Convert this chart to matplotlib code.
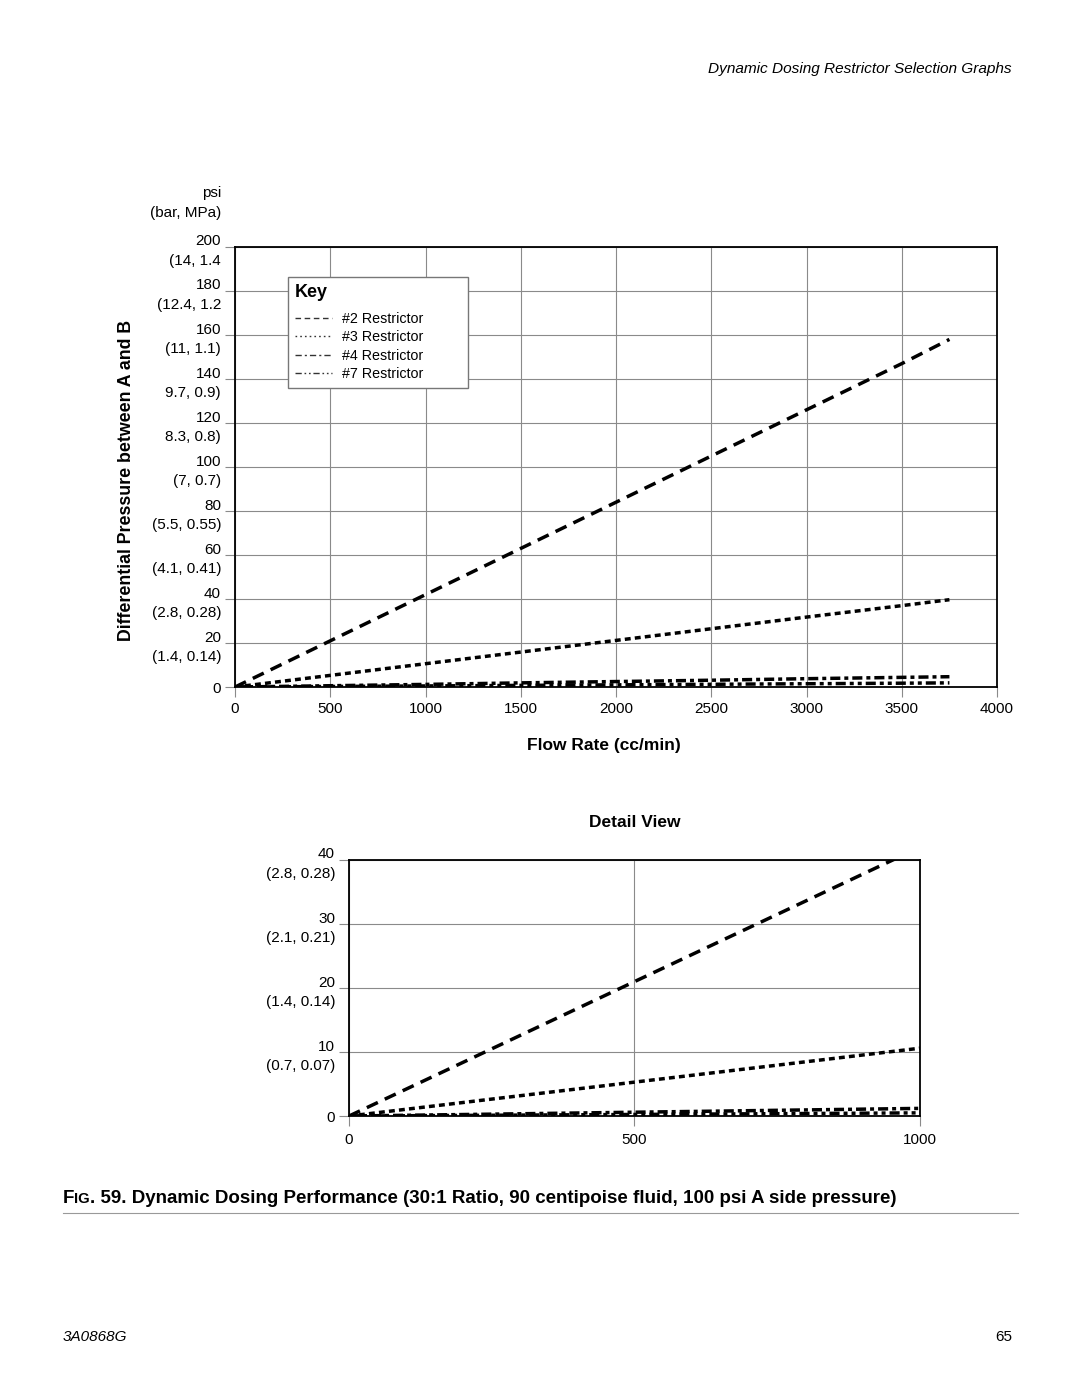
import matplotlib
matplotlib.use("Agg")
import matplotlib.pyplot as plt
from matplotlib.lines import Line2D

plt.rcParams['font.family'] = ['Liberation Sans', 'DejaVu Sans']

# data (flow in cc/min, pressure in psi)
flow = [0, 500, 1000, 1500, 2000, 2500, 3000, 3500, 3750]
r2 = [0, 21, 42, 63, 84, 105, 126, 147, 158]
r3 = [0, 5.3, 10.6, 15.9, 21.2, 26.5, 31.8, 37.0, 39.7]
r4 = [0, 0.6, 1.2, 1.9, 2.5, 3.1, 3.8, 4.4, 4.7]
r7 = [0, 0.25, 0.5, 0.75, 1.0, 1.25, 1.5, 1.75, 1.9]
labels = ["#2 Restrictor", "#3 Restrictor", "#4 Restrictor", "#7 Restrictor"]

main_yticks = [0, 20, 40, 60, 80, 100, 120, 140, 160, 180, 200]
main_ylabels = ["0", "20\n(1.4, 0.14)", "40\n(2.8, 0.28)", "60\n(4.1, 0.41)",
                "80\n(5.5, 0.55)", "100\n(7, 0.7)", "120\n8.3, 0.8)",
                "140\n9.7, 0.9)", "160\n(11, 1.1)", "180\n(12.4, 1.2",
                "200\n(14, 1.4"]
main_xticks = [0, 500, 1000, 1500, 2000, 2500, 3000, 3500, 4000]
det_yticks = [0, 10, 20, 30, 40]
det_ylabels = ["0", "10\n(0.7, 0.07)", "20\n(1.4, 0.14)", "30\n(2.1, 0.21)",
               "40\n(2.8, 0.28)"]
det_xticks = [0, 500, 1000]

series = [r2, r3, r4, r7]
dashes = [(3.5, 2.2), (1.7, 1.2), (2.9, 1.15, 1.15, 1.15),
          (2.9, 1.15, 1.15, 1.15, 1.15, 1.15)]
key_dashes = [(4, 2.6), (1.2, 2.2), (4.5, 2.2, 1.5, 2.2), (4.5, 2, 1.2, 2, 1.2, 2)]

fig = plt.figure(figsize=(10.8, 13.97), dpi=100)


def style_axes(ax):
    for sp in ax.spines.values():
        sp.set_linewidth(1.3)
        sp.set_color('black')
        sp.set_zorder(5)
    ax.grid(True, color='#8a8a8a', linewidth=0.8)
    ax.set_axisbelow(True)
    ax.tick_params(axis='both', length=7, width=0.8, color='#8a8a8a',
                   labelsize=11, pad=3)
    for t in ax.get_yticklabels():
        t.set_linespacing(1.5)


# main chart
ax = fig.add_axes([0.2176, 0.5082, 0.7056, 0.315])
for s, d, lab in zip(series, dashes, labels):
    ax.plot(flow, s, color='black', linewidth=2.5, dashes=d, label=lab,
            solid_capstyle='butt', dash_capstyle='butt')
ax.set_xlim(0, 4000)
ax.set_ylim(0, 200)
ax.set_xticks(main_xticks)
ax.set_yticks(main_yticks)
ax.set_yticklabels(main_ylabels)
style_axes(ax)
ax.tick_params(axis='x', pad=4)
ax.set_xlabel("Flow Rate (cc/min)", fontsize=12.5, fontweight='bold')
ax.xaxis.set_label_coords(0.484, -0.116)
ax.set_ylabel("Differential Pressure between A and B", fontsize=12.8,
              fontweight='bold')
ax.yaxis.set_label_coords(-0.131, 0.47)

handles = [Line2D([], [], color='#333333', linewidth=1, dashes=d) for d in key_dashes]
leg = ax.legend(handles, labels, title="Key", loc='upper left',
                bbox_to_anchor=(0.0696, 0.675, 0.236, 0.257), mode='expand',
                borderaxespad=0,
                fontsize=10.3, title_fontproperties={'weight': 'bold', 'size': 13},
                alignment='left', fancybox=False, edgecolor='#777777',
                framealpha=1, handlelength=2.6, handletextpad=0.7,
                labelspacing=0.3, borderpad=0.5)
leg.get_frame().set_linewidth(1.0)
leg._legend_box.sep = 8  # a bit more room under "Key"

fig.text(221 / 1080, 1 - 203 / 1397, "psi\n(bar, MPa)", ha='right', va='center',
         fontsize=11, linespacing=1.5)

# detail view
ax2 = fig.add_axes([0.3231, 0.2011, 0.5287, 0.1833])
for s, d in zip(series, dashes):
    ax2.plot(flow, s, color='black', linewidth=2.5, dashes=d,
             solid_capstyle='butt', dash_capstyle='butt')
ax2.set_xlim(0, 1000)
ax2.set_ylim(0, 40)
ax2.set_xticks(det_xticks)
ax2.set_yticks(det_yticks)
ax2.set_yticklabels(det_ylabels)
style_axes(ax2)
ax2.tick_params(axis='x', pad=5)
ax2.set_title("Detail View", fontsize=12.5, fontweight='bold', pad=24)

# page text
fig.text(1012 / 1080, 1 - 69 / 1397, "Dynamic Dosing Restrictor Selection Graphs",
         ha='right', va='center', fontsize=11.1, style='italic')
fig.text(63 / 1080, 1 - 1337 / 1397, "3A0868G", ha='left', va='center',
         fontsize=11, style='italic')
fig.text(1012 / 1080, 1 - 1337 / 1397, "65", ha='right', va='center', fontsize=11)

# caption with small caps "FIG"
cap_y = 1 - 1203 / 1397
parts = [("F", 13.5), ("IG", 10.6), (". 59. Dynamic Dosing Performance (30:1 Ratio, "
                                    "90 centipoise fluid, 100 psi A side pressure)", 13.5)]
x = 63 / 1080
r = fig.canvas.get_renderer()
for txt, size in parts:
    t = fig.text(x, cap_y, txt, ha='left', va='baseline', fontsize=size,
                 fontweight='bold')
    bb = t.get_window_extent(renderer=r)
    x = bb.x1 / fig.bbox.width
fig.add_artist(Line2D([63 / 1080, 1018 / 1080], [1 - 1213 / 1397] * 2,
                      color='#999999', linewidth=0.8))

fig.savefig("out.png", dpi=100)
